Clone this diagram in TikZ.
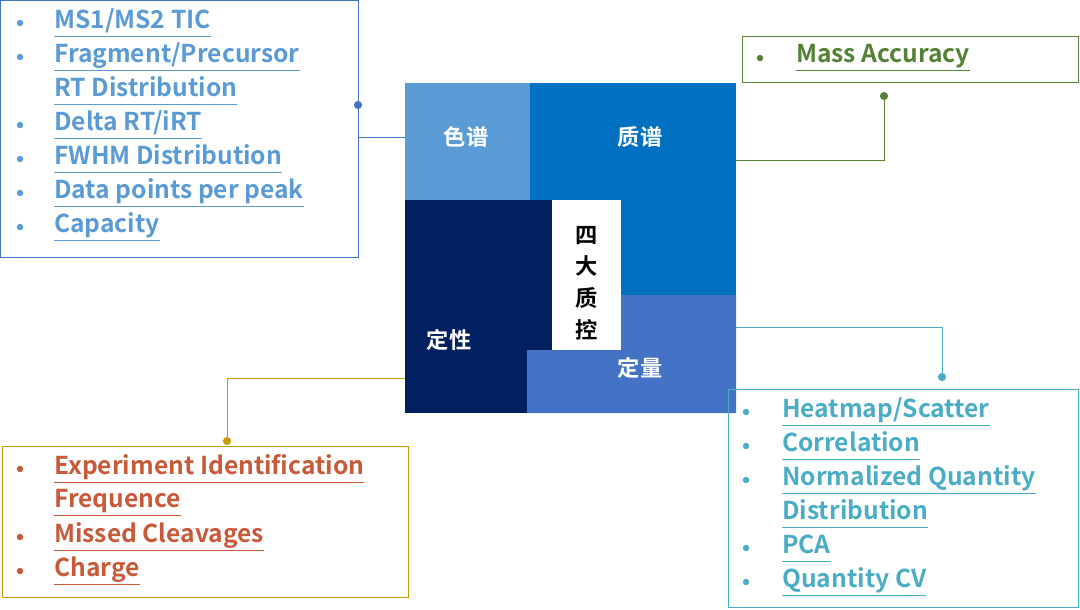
\documentclass[tikz,border=0pt]{standalone}
\usepackage{fontspec}
\setmainfont{Noto Sans CJK SC}[BoldFont={* Bold}]
\begin{document}
\begin{tikzpicture}[x=0.03cm,y=-0.03cm,
 it/.style={anchor=west,inner sep=0pt,font=\bfseries\fontsize{21}{24}\selectfont},
 bu/.style={circle,fill,inner sep=0pt,minimum size=5.5pt},
 dot/.style={circle,fill,inner sep=0pt,minimum size=7pt},
 lab/.style={text=white,font=\bfseries\fontsize{19}{22}\selectfont}]
\useasboundingbox (0,0) rectangle (1080,609);
\newcommand\ul[1]{\underline{#1\vphantom{gy}}}
\definecolor{colB}{HTML}{5B9BD5}\definecolor{colM}{HTML}{0070C0}
\definecolor{colD}{HTML}{002060}\definecolor{colQ}{HTML}{4472C4}
\definecolor{colG}{HTML}{548235}\definecolor{colT}{HTML}{4BACC6}
\definecolor{colO}{HTML}{C85A3A}\definecolor{colY}{HTML}{C89B00}
\definecolor{colL}{HTML}{4472C4}
% square
\fill[colB] (405,83) rectangle (530,200);
\fill[colM] (530,83) rectangle (736,295);
\fill[colD] (405,200) rectangle (552,413);
\fill[colQ] (621,295) -- (736,295) -- (736,413) -- (527,413) -- (527,350) -- (621,350) -- cycle;
\fill[white] (552,200) rectangle (621,350);
\node[lab] (sp) at (466,137) {色谱};
\node[lab] (ms) at (640,137) {质谱};
\node[lab] (dx) at (449,340) {定性};
\node[lab] (dl) at (640,368) {定量};
\node[font=\bfseries\fontsize{19}{27}\selectfont,align=center] (c) at (587,283) {四\\大\\质\\控};
\coordinate (sqL1) at (405,137); \coordinate (sqR1) at (736,160);
\coordinate (sqR2) at (736,327); \coordinate (sqL2) at (405,378);
% top-left
\draw[colL,line width=0.8pt] (0,0) rectangle (358,257);
\node[dot,colL] (d1) at (358,105) {};
\coordinate (k1) at (358,137);
\draw[colL,line width=0.8pt] (k1) -- (sqL1);
\foreach \y/\t/\b in {23/MS1\slash MS2 TIC/1,57/Fragment\slash Precursor/1,91/RT Distribution/0,125/Delta RT\slash iRT/1,159/FWHM Distribution/1,193/Data points per peak/1,227/Capacity/1}{
 \node[it,text=colB] at (54,\y) {\ul{\t}};
 \ifnum\b=1 \node[bu,colB] at (20,\y) {};\fi}
% mass accuracy
\draw[colG,line width=0.8pt] (742,36) rectangle (1078,82);
\node[bu,colG] at (760,58) {};
\node[it,text=colG] at (796,58) {\ul{Mass Accuracy}};
\node[dot,colG] (d2) at (884,96) {};
\draw[colG,line width=0.8pt] (d2) |- (sqR1);
% bottom-right
\draw[colT,line width=0.8pt] (728,389) rectangle (1078,607);
\node[dot,colT] (d3) at (942,377) {};
\draw[colT,line width=0.8pt] (sqR2) -| (d3);
\foreach \y/\t/\b in {412/Heatmap\slash Scatter/1,446/Correlation/1,480/Normalized Quantity/1,514/Distribution/0,548/PCA/1,582/Quantity CV/1}{
 \node[it,text=colT] at (782,\y) {\ul{\t}};
 \ifnum\b=1 \node[bu,colT] at (746,\y) {};\fi}
% bottom-left
\draw[colY,line width=0.8pt] (2,446) rectangle (408,597);
\node[dot,colY] (d4) at (227,441) {};
\draw[colY,line width=0.8pt] (sqL2) -| (d4);
\foreach \y/\t/\b in {469/Experiment Identification/1,503/Frequence/0,537/Missed Cleavages/1,571/Charge/1}{
 \node[it,text=colO] at (54,\y) {\ul{\t}};
 \ifnum\b=1 \node[bu,colO] at (20,\y) {};\fi}
\end{tikzpicture}
\end{document}
